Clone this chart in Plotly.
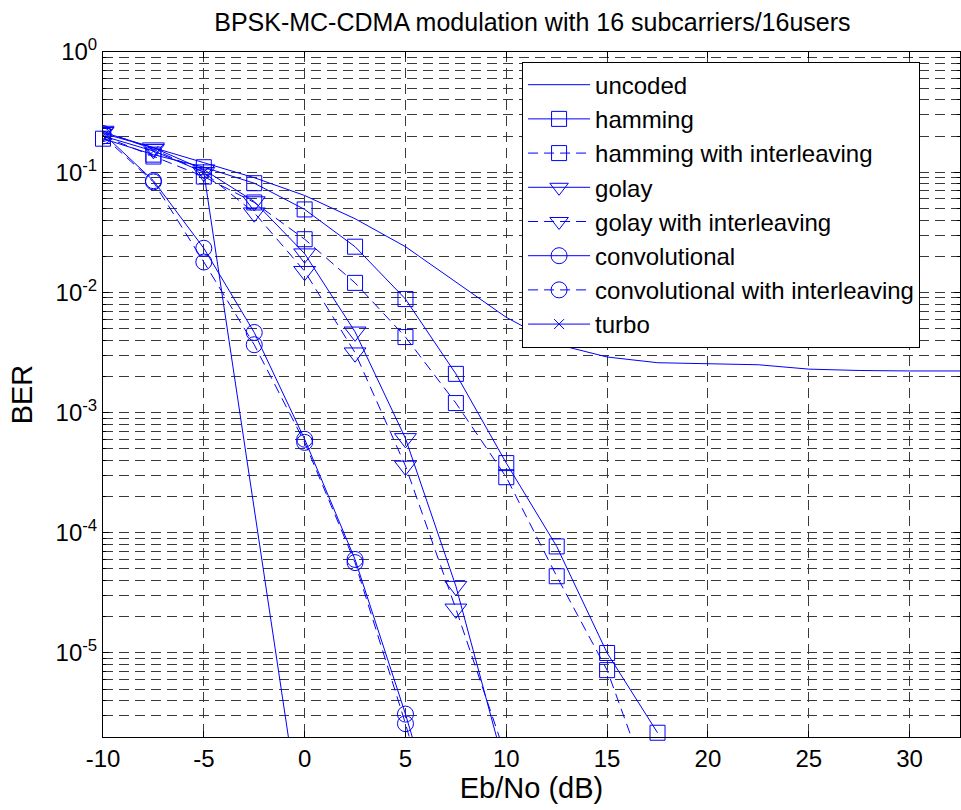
import plotly.graph_objects as go

# ---- data ----
ebno_uncoded = [-10, -7.5, -5, -2.5, 0, 2.5, 5, 7.5, 10, 12.5, 15, 17.5, 20, 22.5, 25, 27.5, 30, 32.5]
ber_uncoded = [0.21, 0.16, 0.12, 0.09, 0.064, 0.041, 0.024, 0.0123, 0.0062, 0.0037, 0.0029, 0.0026,
               0.00255, 0.0025, 0.0023, 0.00224, 0.00222, 0.00222]

ebno_coded = [-10, -7.5, -5, -2.5, 0, 2.5, 5, 7.5, 10, 12.5, 15, 17.5]
ber_hamming = [0.19, 0.14, 0.11, 0.081, 0.049, 0.024, 0.0088, 0.0021, 3.8e-4, 7.7e-5, 1.0e-5, 2.17e-6]
ber_hamming_il = [0.2, 0.135, 0.092, 0.056, 0.0277, 0.012, 0.00425, 0.0012, 2.9e-4, 4.35e-5, 7.2e-6, 5e-7]
ber_golay = [0.215, 0.16, 0.105, 0.057, 0.021, 0.0047, 6.1e-4, 3.6e-5, 1.0e-6]
ber_golay_il = [0.22, 0.155, 0.1, 0.046, 0.015, 0.00315, 3.6e-4, 2.33e-5, 1.35e-6]
ber_conv = [0.21, 0.085, 0.0233, 0.00464, 6.0e-4, 6.0e-5, 3.1e-6, 1.2e-7]
ber_conv_il = [0.2, 0.083, 0.0179, 0.00367, 5.65e-4, 5.65e-5, 2.58e-6, 9e-8]
ebno_turbo = [-10, -7.5, -5, 0]
ber_turbo = [0.2, 0.15, 0.1, 2.5e-7]

ytick_vals = [1, 1e-1, 1e-2, 1e-3, 1e-4, 1e-5]
ytick_text = ["10<sup>0</sup>", "10<sup>-1</sup>", "10<sup>-2</sup>", "10<sup>-3</sup>",
              "10<sup>-4</sup>", "10<sup>-5</sup>"]
xtick_vals = [-10, -5, 0, 5, 10, 15, 20, 25, 30]
xtick_text = ["-10", "-5", "0", "5", "10", "15", "20", "25", "30"]

BLUE = "#0000ff"
FONT = "Liberation Sans, Arial, Helvetica, sans-serif"
DASH = "10px,6px"

fig = go.Figure()


def add(name, x, y, symbol=None, dash="solid", size=16, clip=True):
    mode = "lines+markers" if symbol else "lines"
    fig.add_trace(go.Scatter(
        x=x, y=y, name=name, mode=mode, cliponaxis=clip,
        line=dict(color=BLUE, width=1, dash=dash),
        marker=dict(symbol=symbol or "circle", size=size, color=BLUE,
                    line=dict(color=BLUE, width=1)),
    ))


add("uncoded", ebno_uncoded, ber_uncoded)
add("hamming", ebno_coded, ber_hamming, "square-open", size=15, clip=False)
add("hamming with interleaving", ebno_coded[:len(ber_hamming_il)], ber_hamming_il, "square-open", DASH, size=15)
add("golay", ebno_coded[:len(ber_golay)], ber_golay, "triangle-down-open", size=19)
add("golay with interleaving", ebno_coded[:len(ber_golay_il)], ber_golay_il, "triangle-down-open", DASH, size=19)
add("convolutional", ebno_coded[:len(ber_conv)], ber_conv, "circle-open", size=16)
add("convolutional with interleaving", ebno_coded[:len(ber_conv_il)], ber_conv_il, "circle-open", DASH, size=16)
add("turbo", ebno_turbo, ber_turbo, "x-thin-open", size=10)

GRID = "#3a3a3a"
fig.update_layout(
    width=961, height=810,
    margin=dict(l=103, r=1, t=52, b=73),
    paper_bgcolor="white", plot_bgcolor="white",
    font=dict(family=FONT, size=24, color="black"),
    showlegend=True,
    title=dict(text="BPSK-MC-CDMA modulation with 16 subcarriers/16users",
               x=0.554, xanchor="center", y=0.972, yanchor="middle", yref="container",
               font=dict(size=25)),
    legend=dict(x=0.489, y=0.986, xanchor="left", yanchor="top",
                bgcolor="white", bordercolor="black", borderwidth=1,
                font=dict(size=24), itemwidth=62, tracegroupgap=0),
    xaxis=dict(range=[-10, 32.5], tickvals=xtick_vals, ticktext=xtick_text, showline=True,
               linecolor="black", linewidth=1, mirror="ticks", ticks="inside", ticklen=6,
               tickcolor="black", showgrid=True, gridcolor=GRID, gridwidth=1, griddash=DASH,
               zeroline=False, title=dict(text="Eb/No (dB)", standoff=6),
               tickfont=dict(size=24)),
    yaxis=dict(type="log", range=[-5.699, 0], tickvals=ytick_vals, ticktext=ytick_text,
               showline=True, linecolor="black", linewidth=1, mirror="ticks",
               ticks="inside", ticklen=6, tickcolor="black",
               showgrid=True, gridcolor=GRID, gridwidth=1, griddash=DASH, zeroline=False,
               minor=dict(dtick="D1", showgrid=True, gridcolor=GRID, gridwidth=1,
                          griddash=DASH, ticks="inside", ticklen=3, tickcolor="black"),
               title=dict(text="BER", standoff=14), tickfont=dict(size=24)),
)

fig.write_html("out.html")
